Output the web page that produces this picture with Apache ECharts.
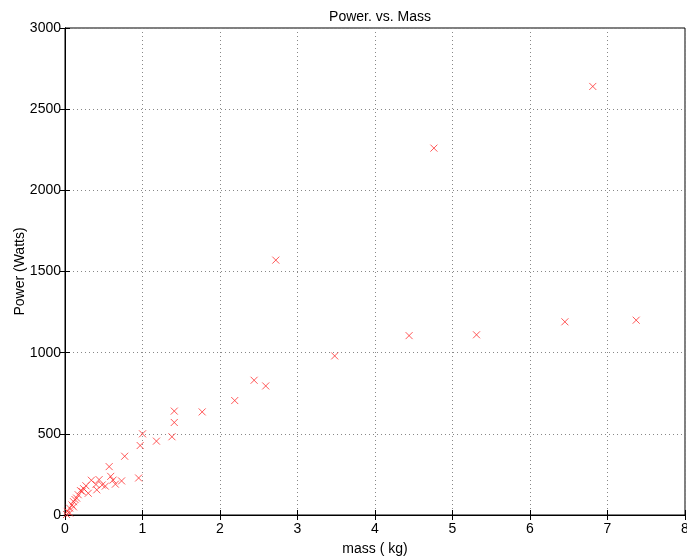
<!DOCTYPE html>
<html><head><meta charset="utf-8">
<script src="https://cdn.jsdelivr.net/npm/echarts@6/dist/echarts.min.js"></script>
<style>html,body{margin:0;padding:0;background:#fff}#c{width:687px;height:559px}</style>
</head><body><div id="c"></div>
<script>
const mass = [7.37,6.81,6.45,5.31,4.76,4.44,3.48,2.72,2.59,2.44,2.19,1.77,1.41,1.41,1.38,1.18,1.0,0.97,0.95,0.77,0.57,0.59,0.62,0.73,0.65,0.52,0.44,0.41,0.48,0.40,0.34,0.30,0.27,0.24,0.22,0.17,0.15,0.11,0.09,0.11,0.06,0.03,0.06,0.02,0.20,0.13];
const power = [1200,2640,1190,1110,2260,1105,980,1570,795,830,705,635,640,570,482,455,500,428,228,362,298,238,215,210,190,178,218,155,185,188,214,134,180,162,145,125,104,82,62,50,42,22,12,3,150,95];
const xTicks = [0,1,2,3,4,5,6,7,8];
const yTicks = [0,500,1000,1500,2000,2500,3000];
const points = mass.map((m,i)=>[m,power[i]]);
const font = 'Liberation Sans, Arial, sans-serif';
const chart = echarts.init(document.getElementById('c'));
const grid = {left:65,right:2,top:28,bottom:44,containLabel:false,outerBoundsMode:'none',show:true,borderColor:'#000',borderWidth:1,backgroundColor:'#fff'};
const splitLine = {show:true,lineStyle:{color:'#888',type:[1,3],width:1}};
const tick = {show:true,inside:true,length:5,lineStyle:{color:'#000'}};
chart.setOption({
  animation:false,
  title:{text:'Power. vs. Mass',left:375,textAlign:'center',top:5,textStyle:{fontFamily:font,fontSize:14,fontWeight:'normal',color:'#000'}},
  grid: grid,
  xAxis:[{type:'value',min:xTicks[0],max:xTicks[xTicks.length-1],interval:1,name:'mass ( kg)',nameLocation:'middle',nameGap:27,nameMoveOverlap:false,
    nameTextStyle:{fontFamily:font,fontSize:14,color:'#000',verticalAlign:'top'},
    axisLine:{show:true,lineStyle:{color:'#000'}},axisTick:tick,
    axisLabel:{fontFamily:font,fontSize:14,color:'#000',margin:7,formatter:v=>String(v)},splitLine:splitLine},
    {type:'value',position:'top',min:xTicks[0],max:xTicks[xTicks.length-1],interval:1,axisLine:{show:true,lineStyle:{color:'#000'}},
    axisTick:tick,axisLabel:{show:false},splitLine:{show:false}}],
  yAxis:[{type:'value',min:yTicks[0],max:yTicks[yTicks.length-1],interval:500,name:'Power (Watts)',nameLocation:'middle',nameGap:38,nameMoveOverlap:false,
    nameTextStyle:{fontFamily:font,fontSize:14,color:'#000'},
    axisLine:{show:true,lineStyle:{color:'#000'}},axisTick:tick,
    axisLabel:{fontFamily:font,fontSize:14,color:'#000',margin:4,formatter:v=>String(v)},splitLine:splitLine},
    {type:'value',position:'right',min:yTicks[0],max:yTicks[yTicks.length-1],interval:500,axisLine:{show:true,lineStyle:{color:'#000'}},
    axisTick:tick,axisLabel:{show:false},splitLine:{show:false}}],
  series:[{type:'scatter',data:points,symbol:'path://M0,0L10,10M10,0L0,10',symbolSize:7,
    itemStyle:{color:'rgba(0,0,0,0)',borderColor:'#ff3030',borderWidth:1}}]
});
</script></body></html>
